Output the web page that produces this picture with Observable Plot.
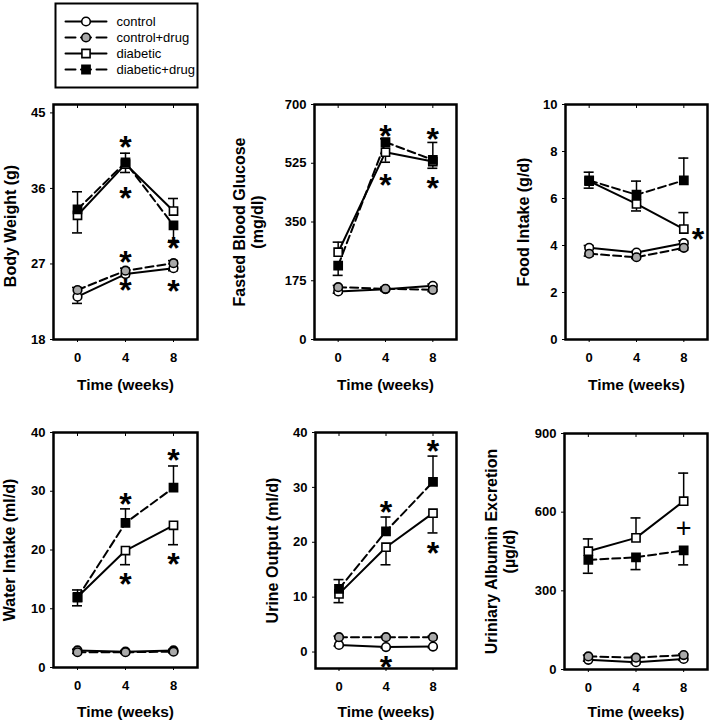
<!DOCTYPE html>
<html>
<head>
<meta charset="utf-8">
<script src="https://cdn.jsdelivr.net/npm/d3@7"></script>
<script src="https://cdn.jsdelivr.net/npm/@observablehq/plot@0.6"></script>
<style>
  body { margin: 0; background: #fff; }
  #fig { position: relative; width: 709px; height: 726px; background: #fff; }
  #fig svg { position: absolute; }
</style>
</head>
<body>
<div id="fig"></div>
<script>
// ---------------- data ----------------
const weeks = [0, 4, 8];
const seriesNames = ["control", "control+drug", "diabetic", "diabetic+drug"];

// Body Weight (g)
const bodyWeightTicks = [18, 27, 36, 45];
const bodyWeightControl = [23.1, 25.8, 26.5];
const bodyWeightControlDrug = [23.9, 26.2, 27.1];
const bodyWeightDiabetic = [32.8, 38.9, 33.3];
const bodyWeightDiabeticDrug = [33.5, 39.1, 31.6];
const bodyWeightErrControl = [-0.8, -0.3, -0.3];
const bodyWeightErrControlDrug = [0.3, 0.3, 0.3];
const bodyWeightErrDiabetic = [-2.1, -1.0, 1.5];
const bodyWeightErrDiabeticDrug = [2.1, 1.1, -1.8];
const bodyWeightStars = [[4, 41.8], [4, 35.7], [4, 28.1], [4, 24.8], [8, 29.8], [8, 24.6]];

// Fasted Blood Glucose (mg/dl)
const glucoseTicks = [0, 175, 350, 525, 700];
const glucoseControl = [143, 150, 160];
const glucoseControlDrug = [156, 151, 148];
const glucoseDiabetic = [260, 558, 530];
const glucoseDiabeticDrug = [220, 588, 535];
const glucoseErrControl = [-5, -5, 5];
const glucoseErrControlDrug = [5, 5, -5];
const glucoseErrDiabetic = [30, -30, -20];
const glucoseErrDiabeticDrug = [-29, 10, 52];
const glucoseStars = [[4, 628], [4, 482], [8, 618], [8, 472]];

// Food Intake (g/d)
const foodTicks = [0, 2, 4, 6, 8, 10];
const foodControl = [3.9, 3.7, 4.1];
const foodControlDrug = [3.65, 3.5, 3.9];
const foodDiabetic = [6.74, 5.77, 4.7];
const foodDiabeticDrug = [6.77, 6.16, 6.77];
const foodErrControl = [0.1, 0.05, 0.1];
const foodErrControlDrug = [-0.1, -0.05, -0.1];
const foodErrDiabetic = [-0.3, -0.3, 0.7];
const foodErrDiabeticDrug = [0.35, 0.58, 0.95];
const foodStars = [[9.2, 4.6]];

// Water Intake (ml/d)
const waterTicks = [0, 10, 20, 30, 40];
const waterControl = [2.9, 2.7, 2.9];
const waterControlDrug = [2.6, 2.6, 2.7];
const waterDiabetic = [12.0, 19.9, 24.2];
const waterDiabeticDrug = [11.9, 24.6, 30.6];
const waterErrControl = [0.2, 0.2, 0.2];
const waterErrControlDrug = [-0.2, -0.2, -0.2];
const waterErrDiabetic = [-1.5, -2.4, -3.3];
const waterErrDiabeticDrug = [1.3, 2.4, 3.7];
const waterStars = [[4, 29.0], [4, 15.4], [8, 36.5], [8, 18.8]];

// Urine Output (ml/d)
const urineTicks = [0, 10, 20, 30, 40];
const urineControl = [1.3, 0.9, 1.0];
const urineControlDrug = [2.7, 2.7, 2.7];
const urineDiabetic = [10.6, 19.1, 25.3];
const urineDiabeticDrug = [11.5, 22.0, 31.0];
const urineErrControl = [-0.2, -0.2, -0.2];
const urineErrControlDrug = [0.2, 0.2, 0.2];
const urineErrDiabetic = [-1.6, -3.2, -3.6];
const urineErrDiabeticDrug = [1.7, 2.6, 4.7];
const urineStars = [[4, 26.9], [4, -1.4], [8, 38.0], [8, 19.4]];

// Uriniary Albumin Excretion (µg/d)
const albuminTicks = [0, 300, 600, 900];
const albuminControl = [37, 28, 40];
const albuminControlDrug = [50, 45, 55];
const albuminDiabetic = [451, 502, 642];
const albuminDiabeticDrug = [418, 428, 454];
const albuminErrControl = [-5, -5, -5];
const albuminErrControlDrug = [5, 5, 5];
const albuminErrDiabetic = [47, 76, 107];
const albuminErrDiabeticDrug = [-51, -47, -55];
const albuminPlus = [[8, 537]];

// ---------------- styling ----------------
const FONT = '"Liberation Sans", Arial, Helvetica, sans-serif';
const seriesStyle = {
  "control":       {symbol: "circle", fill: "white",   dash: null,  r: 4.3},
  "control+drug":  {symbol: "circle", fill: "#a9a9a9", dash: "8,4", r: 4.3},
  "diabetic":      {symbol: "square", fill: "white",   dash: null,  r: 4.6},
  "diabetic+drug": {symbol: "square", fill: "black",   dash: "8,4", r: 4.6}
};

const fig = document.getElementById("fig");

function panel(cfg) {
  const rows = [];
  cfg.values.forEach((vals, si) => vals.forEach((v, i) =>
    rows.push({series: seriesNames[si], t: weeks[i], v, e: cfg.errs[si][i]})));
  const marks = [
    Plot.axisY({ticks: cfg.ticks, tickSize: 3, tickPadding: 5, label: null}),
    Plot.axisX({ticks: weeks, tickSize: 3, tickPadding: 10, label: null}),
    Plot.axisX({anchor: "top", ticks: weeks, tickSize: 3, dy: 3, tickFormat: () => "", label: null}),
    // error bars
    Plot.ruleX(rows, {x: "t", y1: "v", y2: d => d.v + d.e, stroke: "black", strokeWidth: 1.5}),
    Plot.ruleY(rows, {y: d => d.v + d.e, x1: "t", x2: "t", insetLeft: -5, insetRight: -5, stroke: "black", strokeWidth: 1.6})
  ];
  for (const name of seriesNames) {
    const s = seriesStyle[name];
    marks.push(Plot.line(rows.filter(d => d.series === name), {
      x: "t", y: "v", stroke: "black", strokeWidth: 2, strokeDasharray: s.dash || undefined
    }));
  }
  for (const name of seriesNames) {
    const s = seriesStyle[name];
    marks.push(Plot.dot(rows.filter(d => d.series === name), {
      x: "t", y: "v", symbol: s.symbol, r: s.r, fill: s.fill, stroke: "black", strokeWidth: 1.6
    }));
  }
  if (cfg.stars) {
    marks.push(Plot.text(cfg.stars, {
      x: d => d[0], y: d => d[1], text: () => "*", fontSize: 32, fontWeight: "bold",
      lineAnchor: "middle", dy: 8, fill: "black"
    }));
  }
  if (cfg.plus) {
    marks.push(Plot.text(cfg.plus, {
      x: d => d[0], y: d => d[1], text: () => "+", fontSize: 27, fontWeight: "normal",
      lineAnchor: "middle", dy: 0, fill: "black"
    }));
  }
  marks.push(Plot.frame({stroke: "black", strokeWidth: 2.5}));
  marks.push(Plot.text([cfg.ylabel], {
    text: d => d, frameAnchor: "left", textAnchor: "middle", rotate: -90, dx: cfg.ylabelDx, dy: cfg.ylabelDy || 0,
    lineAnchor: "middle", lineHeight: 1.07, fontSize: 16, fontWeight: "bold", fill: "black"
  }));
  marks.push(Plot.text(["Time (weeks)"], {
    text: d => d, frameAnchor: "bottom", textAnchor: "middle", dy: cfg.xlabelDy, lineAnchor: "middle",
    fontSize: 15.5, fontWeight: "bold", fill: "black"
  }));
  const svg = Plot.plot({
    width: cfg.width, height: cfg.height,
    marginLeft: cfg.ml, marginRight: cfg.width - cfg.ml - cfg.fw,
    marginTop: cfg.mt, marginBottom: cfg.height - cfg.mt - cfg.fh,
    x: {domain: [-2, 10]},
    y: {domain: cfg.domain},
    style: {fontFamily: FONT, fontSize: "13px", fontWeight: "bold", color: "black", background: "transparent", overflow: "visible"},
    marks
  });
  svg.style.left = cfg.left + "px";
  svg.style.top = cfg.top + "px";
  fig.appendChild(svg);
}

// top row
panel({left: 0, top: 90, width: 236, height: 310, ml: 53, mt: 14, fw: 144, fh: 235,
  domain: [18, 46], ticks: bodyWeightTicks,
  values: [bodyWeightControl, bodyWeightControlDrug, bodyWeightDiabetic, bodyWeightDiabeticDrug],
  errs: [bodyWeightErrControl, bodyWeightErrControlDrug, bodyWeightErrDiabetic, bodyWeightErrDiabeticDrug],
  stars: bodyWeightStars, ylabel: "Body Weight (g)", ylabelDx: -43, ylabelDy: 4, xlabelDy: 46});
panel({left: 236, top: 90, width: 236, height: 310, ml: 78, mt: 14, fw: 142, fh: 235,
  domain: [0, 700], ticks: glucoseTicks,
  values: [glucoseControl, glucoseControlDrug, glucoseDiabetic, glucoseDiabeticDrug],
  errs: [glucoseErrControl, glucoseErrControlDrug, glucoseErrDiabetic, glucoseErrDiabeticDrug],
  stars: glucoseStars, ylabel: "Fasted Blood Glucose\n(mg/dl)", ylabelDx: -66, xlabelDy: 46});
panel({left: 472, top: 90, width: 237, height: 310, ml: 93, mt: 14, fw: 142, fh: 235,
  domain: [0, 10], ticks: foodTicks,
  values: [foodControl, foodControlDrug, foodDiabetic, foodDiabeticDrug],
  errs: [foodErrControl, foodErrControlDrug, foodErrDiabetic, foodErrDiabeticDrug],
  stars: foodStars, ylabel: "Food Intake (g/d)", ylabelDx: -42, xlabelDy: 46});

// bottom row
panel({left: 0, top: 400, width: 236, height: 326, ml: 53, mt: 32, fw: 144, fh: 235,
  domain: [0, 40], ticks: waterTicks,
  values: [waterControl, waterControlDrug, waterDiabetic, waterDiabeticDrug],
  errs: [waterErrControl, waterErrControlDrug, waterErrDiabetic, waterErrDiabeticDrug],
  stars: waterStars, ylabel: "Water Intake (ml/d)", ylabelDx: -44, xlabelDy: 45});
panel({left: 236, top: 400, width: 236, height: 326, ml: 79, mt: 32, fw: 141, fh: 236,
  domain: [-3, 40], ticks: urineTicks,
  values: [urineControl, urineControlDrug, urineDiabetic, urineDiabeticDrug],
  errs: [urineErrControl, urineErrControlDrug, urineErrDiabetic, urineErrDiabeticDrug],
  stars: urineStars, ylabel: "Urine Output (ml/d)", ylabelDx: -43, xlabelDy: 44});
panel({left: 472, top: 400, width: 237, height: 326, ml: 92, mt: 33, fw: 143, fh: 236,
  domain: [0, 900], ticks: albuminTicks,
  values: [albuminControl, albuminControlDrug, albuminDiabetic, albuminDiabeticDrug],
  errs: [albuminErrControl, albuminErrControlDrug, albuminErrDiabetic, albuminErrDiabeticDrug],
  plus: albuminPlus, ylabel: "Uriniary Albumin Excretion\n(µg/d)", ylabelDx: -64, xlabelDy: 43});

// legend
{
  const legendMarks = [Plot.frame({stroke: "black", strokeWidth: 2})];
  for (const name of seriesNames) {
    const s = seriesStyle[name];
    legendMarks.push(Plot.line([[0, name], [1, name]], {
      x: d => d[0], y: d => d[1], stroke: "black", strokeWidth: 2,
      strokeDasharray: s.dash ? "10,5.5" : undefined
    }));
    legendMarks.push(Plot.dot([[0.5, name]], {
      x: d => d[0], y: d => d[1], symbol: s.symbol, r: s.r, fill: s.fill, stroke: "black", strokeWidth: 1.6
    }));
  }
  legendMarks.push(Plot.text(seriesNames, {
    x: () => 1, y: d => d, text: d => d, textAnchor: "start", dx: 10, lineAnchor: "middle",
    fontSize: 13, fontWeight: "normal", fill: "black"
  }));
  const leg = Plot.plot({
    width: 236, height: 90, marginLeft: 55, marginRight: 39, marginTop: 3, marginBottom: 3,
    x: {domain: [0, 1], range: [65, 106], axis: null},
    y: {type: "point", domain: seriesNames, range: [20.7, 70], padding: 0, axis: null},
    style: {fontFamily: FONT, background: "transparent", overflow: "visible"},
    marks: legendMarks
  });
  leg.style.left = "0px";
  leg.style.top = "0px";
  fig.appendChild(leg);
}
</script>
</body>
</html>
